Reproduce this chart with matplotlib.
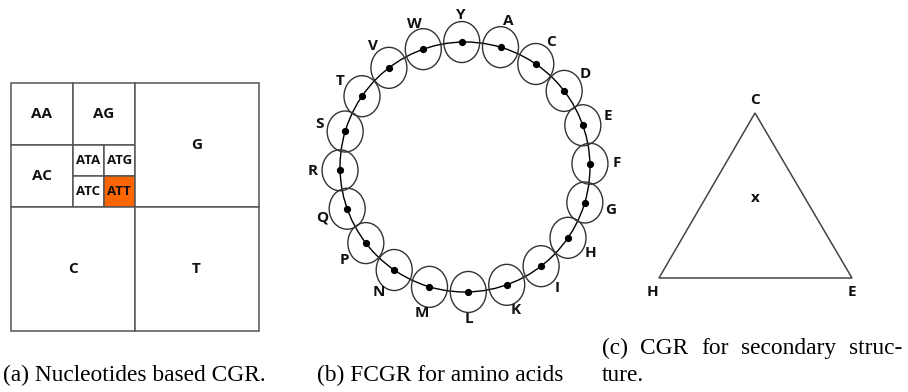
import numpy as np
import matplotlib.pyplot as plt
from matplotlib.patches import Rectangle, Ellipse, Circle, Polygon

# panel (a): nucleotide CGR cells
corner = {"A": (0, 0), "G": (1, 0), "C": (0, 1), "T": (1, 1)}
kmers = ["AA", "AG", "AC", "ATA", "ATG", "ATC", "ATT", "G", "C", "T"]
highlight = ["ATT"]

# panel (b): amino acids clockwise from the top
amino = ["Y", "A", "C", "D", "E", "F", "G", "H", "I", "K",
         "L", "M", "N", "P", "Q", "R", "S", "T", "V", "W"]

# panel (c): secondary structure corners
sec_labels = ["C", "H", "E"]
sec_point = ["x"]

captions = ["(a) Nucleotides based CGR.", "(b) FCGR for amino acids",
            "(c) CGR for secondary struc-", "ture."]

W, H = 908, 392
fig = plt.figure(figsize=(W / 100, H / 100), dpi=100)
ax = fig.add_axes([0, 0, 1, 1])
ax.set_xlim(0, W)
ax.set_ylim(H, 0)
ax.set_aspect("equal")
ax.axis("off")

bold = dict(family="Open Sans", weight="bold", color="#111111")
serif = dict(family="Liberation Serif", fontsize=16.8, color="black")


def cgr_cell(k):
    x, y, s = 0.0, 0.0, 1.0
    for ch in k:
        s = s / 2
        cx, cy = corner[ch]
        x += cx * s
        y += cy * s
    return x, y, s


sx, sy, ss = 11, 83, 247.5
for k in kmers:
    x, y, s = cgr_cell(k)
    fc = "#ff6600" if k in highlight else "white"
    ax.add_patch(Rectangle((sx + x * ss, sy + y * ss), s * ss, s * ss,
                           facecolor=fc, edgecolor="#555555", lw=1.1))
    fs = 11 if len(k) < 3 else 9.5
    ax.text(sx + (x + s / 2) * ss, sy + (y + s / 2) * ss, k, ha="center",
            va="center", fontsize=fs, **bold)

# panel (b)
cx, cy, R = 465, 167, 125
ax.add_patch(Circle((cx, cy), R, fill=False, edgecolor="black", lw=1.0))
ang = np.deg2rad(91.5 - 18 * np.arange(len(amino)))
px = cx + R * np.cos(ang)
py = cy - R * np.sin(ang)
for i, a in enumerate(amino):
    ax.add_patch(Ellipse((px[i], py[i]), 36, 41, fill=False,
                         edgecolor="#333333", lw=1.0))
    ax.text(cx + 152 * np.cos(ang[i]), cy - 152 * np.sin(ang[i]), a,
            ha="center", va="center", fontsize=11, **bold)
ax.plot(px, py, "o", color="black", ms=4.2)

# panel (c)
tri = np.array([[755, 113], [659, 278], [852, 278]])
ax.add_patch(Polygon(tri, closed=True, fill=False, edgecolor="#444444",
                     lw=1.1))
offs = [(0, -13), (-6, 14), (0, 14)]
for (vx, vy), (ox, oy), lab in zip(tri, offs, sec_labels):
    ax.text(vx + ox, vy + oy, lab, ha="center", va="center", fontsize=11,
            **bold)
ax.text(tri[:, 0].mean(), 198, sec_point[0], ha="center", va="center",
        fontsize=11, **bold)

# captions
ax.text(134, 381, captions[0], ha="center", va="baseline", **serif)
ax.text(440, 381, captions[1], ha="center", va="baseline", **serif)
ax.text(602, 381, captions[3], ha="left", va="baseline", **serif)

# justified first line of caption (c)
words = captions[2].split()
fig.canvas.draw()
rend = fig.canvas.get_renderer()
objs = [ax.text(0, 354, w_, ha="left", va="baseline", **serif) for w_ in words]
widths = [o.get_window_extent(rend).width for o in objs]
left, right = 602, 902
gap = (right - left - sum(widths)) / (len(words) - 1)
pos = left
for o, wd in zip(objs, widths):
    o.set_x(pos)
    pos += wd + gap

fig.savefig("out.png", dpi=100)
